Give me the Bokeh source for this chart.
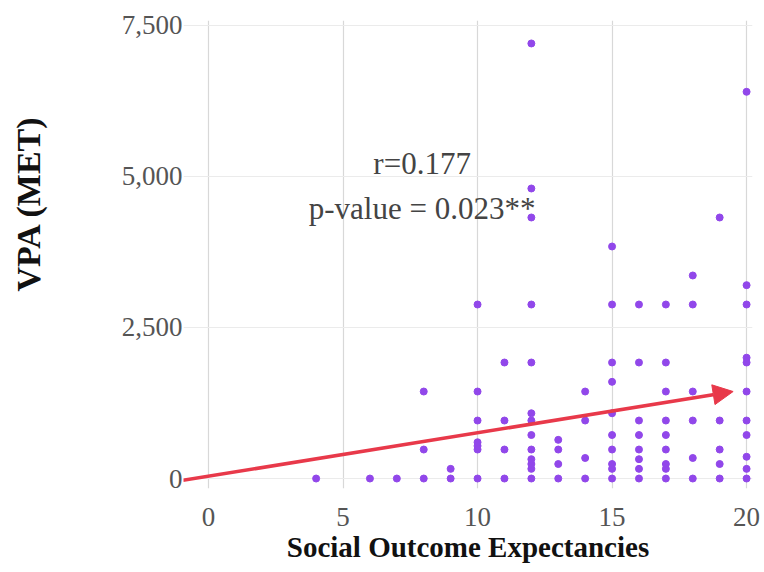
from bokeh.plotting import figure
from bokeh.models import ColumnDataSource, FixedTicker, NumeralTickFormatter, Arrow, NormalHead, Range1d, Label
from bokeh.embed import file_html
from bokeh.resources import INLINE

# Social Outcome Expectancies score -> list of VPA (MET) values
columns = {
    4: [0],
    6: [0],
    7: [0],
    8: [0, 480, 1440],
    9: [0, 160],
    10: [0, 480, 540, 600, 960, 1440, 2880],
    11: [0, 480, 960, 1920],
    12: [0, 160, 240, 320, 480, 720, 960, 1080, 1920, 2880, 4320, 4800, 7200],
    13: [0, 240, 480, 640],
    14: [0, 340, 960, 1440],
    15: [0, 160, 240, 480, 720, 1080, 1600, 1920, 2880, 3840],
    16: [0, 160, 320, 480, 720, 960, 1920, 2880],
    17: [0, 160, 240, 480, 720, 960, 1440, 1920, 2880],
    18: [0, 340, 960, 1440, 2880, 3360],
    19: [0, 240, 480, 960, 4320],
    20: [0, 160, 360, 720, 960, 1440, 1920, 2000, 2880, 3200, 6400],
}
x_vals = [k for k, vs in columns.items() for _ in vs]
y_vals = [v for vs in columns.values() for v in vs]

trend_x = [-0.95, 19.5]
trend_y = [-30, 1440]

x_ticks = [0, 5, 10, 15, 20]
y_ticks = [0, 2500, 5000, 7500]

annot_r = "r=0.177"
annot_p = "p-value = 0.023**"
annot_x = 7.94
annot_r_y = 5217
annot_p_y = 4472

x_title = "Social Outcome Expectancies"
y_title = "VPA (MET)"

SERIF = "Liberation Serif"

p = figure(width=764, height=572, output_backend="svg", toolbar_location=None,
           x_range=Range1d(-0.93, 20.22), y_range=Range1d(-165, 7580),
           min_border_left=183, min_border_right=12, min_border_top=20, min_border_bottom=84)
p.outline_line_color = None
p.background_fill_color = "white"
p.border_fill_color = "white"

p.xgrid.grid_line_color = "#d8d8d8"
p.ygrid.grid_line_color = "#ebebeb"
p.xgrid.grid_line_width = 1.2
p.ygrid.grid_line_width = 1.2

p.xaxis.ticker = FixedTicker(ticks=x_ticks)
p.yaxis.ticker = FixedTicker(ticks=y_ticks)
p.yaxis.formatter = NumeralTickFormatter(format="0,0")
for ax in (p.xaxis, p.yaxis):
    ax.axis_line_color = None
    ax.major_tick_line_color = None
    ax.minor_tick_line_color = None
    ax.major_label_text_font = SERIF
    ax.major_label_text_font_size = "27px"
    ax.major_label_text_color = "#555555"
    ax.axis_label_text_font = SERIF
    ax.axis_label_text_font_style = "bold"
    ax.axis_label_text_color = "#111111"

p.xaxis.axis_label = x_title
p.xaxis.axis_label_text_font_size = "29px"
p.xaxis.major_label_standoff = 13
p.xaxis.axis_label_standoff = 2

# y title: leading en spaces shift the visible text upward (reference centres it above the frame centre)
p.yaxis.axis_label = "\u2002" * 6 + y_title
p.yaxis.axis_label_text_font_size = "34px"
p.yaxis.major_label_standoff = -5
p.yaxis.axis_label_standoff = 72

src = ColumnDataSource(dict(x=x_vals, y=y_vals))
p.scatter("x", "y", source=src, size=7, fill_color="#9147ea", line_color="#9147ea")

arrow_src = ColumnDataSource(dict(x0=[trend_x[0]], y0=[trend_y[0]], x1=[trend_x[1]], y1=[trend_y[1]]))
p.add_layout(Arrow(end=NormalHead(size=20, fill_color="#e8394a", line_color="#e8394a"),
                   x_start="x0", y_start="y0", x_end="x1", y_end="y1", source=arrow_src,
                   line_color="#e8394a", line_width=3.5))

p.add_layout(Label(x=annot_x, y=annot_r_y, text=annot_r, text_align="center", text_baseline="alphabetic",
                   text_font=SERIF, text_font_size="31px", text_color="#444444"))
p.add_layout(Label(x=annot_x, y=annot_p_y, text=annot_p, text_align="center", text_baseline="alphabetic",
                   text_font=SERIF, text_font_size="31px", text_color="#444444"))

open("out.html", "w").write(file_html(p, INLINE))
